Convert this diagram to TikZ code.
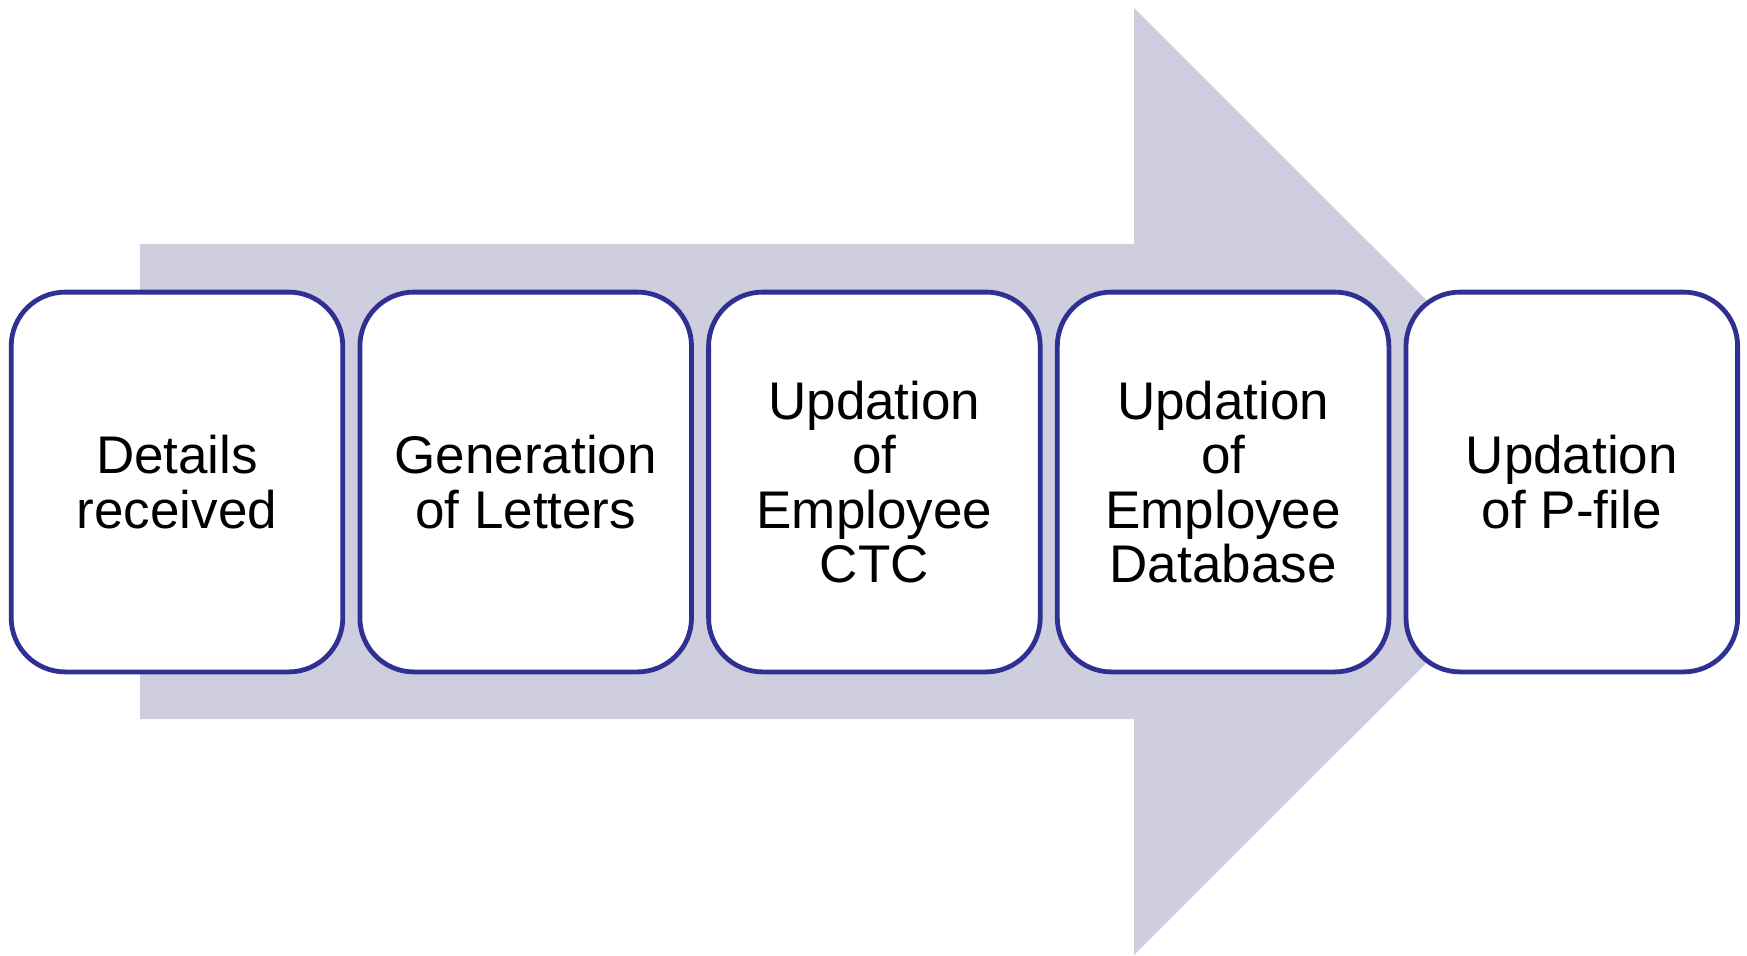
\documentclass[tikz,border=0pt]{standalone}
\usepackage{fontspec}
\setmainfont{Liberation Sans}
\definecolor{arrowgray}{RGB}{206,206,222}
\definecolor{boxblue}{RGB}{46,49,146}

\begin{document}
\begin{tikzpicture}[x=0.5pt,y=-0.5pt,node distance=174.35pt]
    \tikzstyle{stage}=[
        draw=boxblue,
        fill=white,
        line width=2.4pt,
        rounded corners=27pt,
        minimum width=165.8pt,
        minimum height=189.9pt,
        inner sep=0pt,
        align=center,
        font=\fontsize{26.5}{27.2}\selectfont]

    \useasboundingbox (0,0) rectangle (1747,955);
    % big arrow behind the boxes
    \fill[arrowgray] (140,244) -- (1134,244) -- (1134,8) -- (1608,481.5)
        -- (1134,955) -- (1134,719) -- (140,719) -- cycle;

    \node[stage] (n1) at (177,482) {Details\\received};
    \node[stage, right of=n1] (n2) {Generation\\of Letters};
    \node[stage, right of=n2] (n3) {Updation\\of\\Employee\\CTC};
    \node[stage, right of=n3] (n4) {Updation\\of\\Employee\\Database};
    \node[stage, right of=n4] (n5) {Updation\\of P-file};
\end{tikzpicture}
\end{document}
